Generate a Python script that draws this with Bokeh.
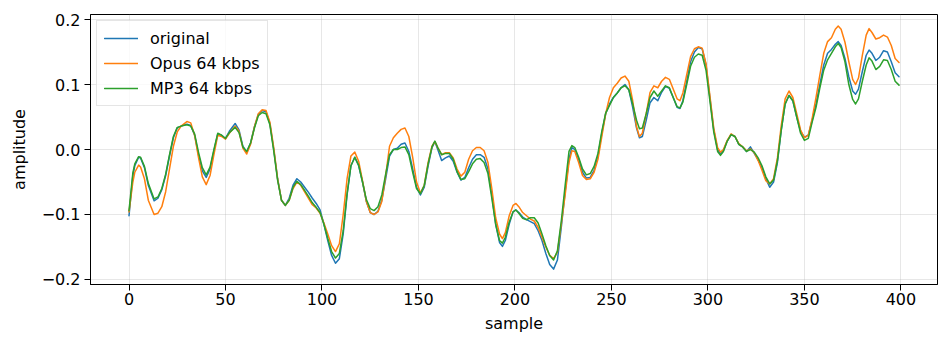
from bokeh.plotting import figure
from bokeh.models import ColumnDataSource, FixedTicker, CustomJSTickFormatter, Range1d, Legend, LegendItem
from bokeh.embed import file_html
from bokeh.resources import INLINE

sample = [0, 2, 3, 5, 6, 8, 10, 13, 15, 17,
          19, 21, 23, 25, 27, 30, 32, 34, 36, 38,
          40, 42, 44, 46, 48, 50, 52, 55, 57, 59,
          61, 63, 65, 67, 69, 71, 73, 75, 77, 79,
          81, 83, 85, 87, 89, 91, 93, 95, 97, 99,
          101, 103, 105, 107, 109, 111, 113, 115, 117, 119,
          121, 123, 125, 127, 129, 131, 133, 135, 137, 139,
          141, 143, 145, 147, 149, 151, 153, 155, 157, 158.5,
          160, 162, 164, 166, 168, 170, 172, 174, 176, 178,
          180, 182, 184, 186, 188, 190, 192, 193.5, 195, 197,
          199, 200.5, 202, 204, 206, 208, 210, 212, 214, 216,
          218, 220, 222, 224, 226, 228, 229.5, 231, 233, 235,
          237, 239, 241, 243, 245, 247, 249, 251, 253, 255,
          257, 259, 261, 263, 264.5, 266, 268, 270, 272, 274,
          276, 278, 280, 282, 284, 285.5, 287, 289, 291, 293,
          295, 297, 299, 301, 303, 305, 306.5, 308, 310, 312,
          314, 316, 318, 320, 322, 324, 326, 328, 330, 332,
          334, 336, 338, 340, 342, 344, 346, 348, 350, 352,
          354, 356, 358, 360, 362, 364, 366, 367.5, 369, 371,
          373, 375, 376.5, 378, 380, 382, 383.5, 385, 387, 389,
          391, 393, 395, 397, 399]

original = [-0.102, -0.04, -0.025, -0.012, -0.013, -0.028, -0.055, -0.079, -0.075, -0.062,
            -0.04, -0.01, 0.018, 0.033, 0.036, 0.039, 0.037, 0.022, -0.008, -0.033,
            -0.043, -0.03, -0.002, 0.024, 0.022, 0.017, 0.028, 0.04, 0.03, 0.005,
            -0.004, 0.01, 0.035, 0.054, 0.06, 0.058, 0.04, 0.0, -0.045, -0.078,
            -0.086, -0.075, -0.055, -0.045, -0.05, -0.058, -0.066, -0.075, -0.083, -0.093,
            -0.115, -0.14, -0.163, -0.175, -0.168, -0.13, -0.07, -0.025, -0.012, -0.025,
            -0.05, -0.08, -0.097, -0.1, -0.095, -0.078, -0.045, -0.01, 0.0, 0.002,
            0.008, 0.01, -0.003, -0.03, -0.058, -0.07, -0.058, -0.025, 0.003, 0.012,
            0.0, -0.017, -0.013, -0.01, -0.018, -0.035, -0.047, -0.043, -0.028, -0.015,
            -0.008, -0.008, -0.012, -0.03, -0.07, -0.115, -0.143, -0.149, -0.14, -0.115,
            -0.096, -0.093, -0.097, -0.104, -0.108, -0.111, -0.114, -0.125, -0.14, -0.16,
            -0.177, -0.184, -0.17, -0.12, -0.065, -0.015, 0.003, 0.0, -0.015, -0.035,
            -0.044, -0.043, -0.032, -0.01, 0.025, 0.055, 0.07, 0.08, 0.087, 0.095,
            0.1, 0.092, 0.065, 0.033, 0.018, 0.02, 0.045, 0.072, 0.08, 0.075,
            0.088, 0.097, 0.094, 0.08, 0.065, 0.063, 0.075, 0.105, 0.135, 0.15,
            0.157, 0.155, 0.13, 0.08, 0.03, 0.0, -0.007, -0.002, 0.013, 0.023,
            0.02, 0.008, 0.004, -0.003, 0.004, -0.006, -0.016, -0.028, -0.045, -0.058,
            -0.05, -0.02, 0.03, 0.07, 0.083, 0.075, 0.05, 0.028, 0.019, 0.022,
            0.045, 0.07, 0.1, 0.13, 0.148, 0.154, 0.162, 0.166, 0.16, 0.14,
            0.112, 0.09, 0.085, 0.093, 0.12, 0.145, 0.153, 0.148, 0.137, 0.142,
            0.152, 0.15, 0.135, 0.118, 0.112]

opus = [-0.096, -0.05, -0.035, -0.024, -0.027, -0.045, -0.078, -0.1, -0.098, -0.088,
        -0.065, -0.03, 0.005, 0.027, 0.036, 0.043, 0.041, 0.022, -0.012, -0.042,
        -0.054, -0.04, -0.008, 0.022, 0.02, 0.016, 0.025, 0.036, 0.028, 0.002,
        -0.007, 0.008, 0.035, 0.055, 0.061, 0.06, 0.042, 0.003, -0.045, -0.078,
        -0.086, -0.078, -0.06, -0.05, -0.055, -0.065, -0.075, -0.085, -0.09, -0.098,
        -0.113, -0.13, -0.148, -0.157, -0.145, -0.1, -0.045, -0.01, -0.004, -0.018,
        -0.048, -0.08, -0.097, -0.1, -0.096, -0.08, -0.04, 0.005, 0.018, 0.025,
        0.031, 0.033, 0.02, -0.012, -0.05, -0.067, -0.055, -0.02, 0.005, 0.012,
        0.003, -0.008, -0.005, -0.005, -0.013, -0.03, -0.041, -0.035, -0.015, -0.002,
        0.003, 0.003, -0.002, -0.02, -0.06, -0.105, -0.13, -0.137, -0.128, -0.102,
        -0.086, -0.083, -0.088, -0.097, -0.102, -0.107, -0.11, -0.12, -0.135, -0.15,
        -0.163, -0.168, -0.158, -0.115, -0.07, -0.02, -0.002, -0.003, -0.02, -0.04,
        -0.046, -0.045, -0.035, -0.015, 0.02, 0.055, 0.08, 0.095, 0.102, 0.11,
        0.113, 0.105, 0.075, 0.035, 0.02, 0.025, 0.055, 0.088, 0.098, 0.095,
        0.105, 0.111, 0.108, 0.093, 0.078, 0.075, 0.087, 0.115, 0.143, 0.155,
        0.158, 0.156, 0.132, 0.083, 0.033, 0.003, -0.004, 0.0, 0.014, 0.024,
        0.02, 0.009, 0.004, -0.002, 0.001, -0.005, -0.017, -0.032, -0.048, -0.053,
        -0.045, -0.013, 0.037, 0.078, 0.09, 0.08, 0.055, 0.03, 0.018, 0.022,
        0.048, 0.08, 0.115, 0.148, 0.166, 0.172, 0.185, 0.19, 0.185, 0.165,
        0.135, 0.108, 0.1, 0.11, 0.145, 0.176, 0.186, 0.18, 0.17, 0.172,
        0.176, 0.173, 0.16, 0.14, 0.134]

mp3 = [-0.094, -0.036, -0.022, -0.011, -0.012, -0.026, -0.052, -0.076, -0.073, -0.06,
       -0.038, -0.008, 0.02, 0.034, 0.036, 0.038, 0.036, 0.024, -0.004, -0.028,
       -0.039, -0.027, 0.0, 0.025, 0.022, 0.017, 0.026, 0.034, 0.026, 0.004,
       -0.003, 0.01, 0.033, 0.052, 0.057, 0.055, 0.038, -0.002, -0.047, -0.078,
       -0.086, -0.078, -0.058, -0.049, -0.054, -0.063, -0.072, -0.082, -0.089, -0.097,
       -0.115, -0.137, -0.157, -0.167, -0.16, -0.125, -0.068, -0.025, -0.012, -0.024,
       -0.05, -0.077, -0.091, -0.094, -0.088, -0.07, -0.038, -0.008, 0.0, 0.0,
       0.003, 0.004, -0.008, -0.035, -0.06, -0.068, -0.055, -0.022, 0.004, 0.013,
       0.003, -0.008, -0.006, -0.006, -0.015, -0.034, -0.046, -0.045, -0.034, -0.022,
       -0.015, -0.014, -0.02, -0.037, -0.075, -0.115, -0.14, -0.144, -0.135, -0.112,
       -0.096, -0.093, -0.098, -0.106, -0.108, -0.105, -0.105, -0.113, -0.13, -0.148,
       -0.163, -0.17, -0.156, -0.11, -0.055, -0.003, 0.006, 0.003, -0.012, -0.03,
       -0.039, -0.037, -0.026, -0.006, 0.028, 0.056, 0.068, 0.08, 0.087, 0.095,
       0.098, 0.092, 0.07, 0.045, 0.032, 0.033, 0.055, 0.08, 0.09, 0.082,
       0.09, 0.098, 0.095, 0.08, 0.066, 0.064, 0.073, 0.1, 0.128, 0.142,
       0.147, 0.145, 0.122, 0.075, 0.027, -0.003, -0.009, -0.003, 0.013, 0.023,
       0.02, 0.008, 0.004, -0.003, 0.0, -0.004, -0.013, -0.025, -0.042, -0.053,
       -0.047, -0.017, 0.03, 0.07, 0.083, 0.075, 0.05, 0.025, 0.014, 0.017,
       0.042, 0.065, 0.095, 0.122, 0.138, 0.148, 0.158, 0.163, 0.157, 0.135,
       0.1, 0.077, 0.07, 0.078, 0.105, 0.13, 0.141, 0.136, 0.123, 0.128,
       0.138, 0.137, 0.123, 0.105, 0.099]

series_names = ["original", "Opus 64 kbps", "MP3 64 kbps"]
x_ticks = [0, 50, 100, 150, 200, 250, 300, 350, 400]
y_ticks = [-0.2, -0.1, 0.0, 0.1, 0.2]

colors = ["#1f77b4", "#ff7f0e", "#2ca02c"]
FONT = "DejaVu Sans"
FS = "16px"

p = figure(width=947, height=348, output_backend="svg", toolbar_location=None,
           x_range=Range1d(-19.95, 418.95), y_range=Range1d(-0.2077, 0.2077),
           min_border_left=90, min_border_right=10, min_border_top=14, min_border_bottom=64)

src = ColumnDataSource(dict(x=sample, a=original, b=opus, c=mp3))
renderers = []
for col, color in zip(["a", "b", "c"], colors):
    r = p.line("x", col, source=src, line_color=color, line_width=1.5,
               line_join="round", line_cap="round")
    renderers.append(r)

legend = Legend(items=[LegendItem(label=n, renderers=[r]) for n, r in zip(series_names, renderers)],
                location="top_left")
legend.label_text_font = FONT
legend.label_text_font_size = FS
legend.label_text_color = "black"
legend.glyph_width = 34
legend.glyph_height = 20
legend.label_height = 20
legend.label_standoff = 12
legend.spacing = 5
legend.padding = 7
legend.margin = 6
legend.border_line_color = "#cccccc"
legend.border_line_width = 1
legend.background_fill_alpha = 0.8
p.add_layout(legend)

p.xaxis.ticker = FixedTicker(ticks=x_ticks)
p.yaxis.ticker = FixedTicker(ticks=y_ticks)
p.yaxis.formatter = CustomJSTickFormatter(code="""
    const s = Math.abs(tick).toFixed(1);
    return (tick < -1e-9 ? "\u2212" : "") + s;
""")
p.xaxis.axis_label = "sample"
p.yaxis.axis_label = "amplitude"
for ax in (p.xaxis, p.yaxis):
    ax.axis_label_text_font = FONT
    ax.axis_label_text_font_size = FS
    ax.axis_label_text_font_style = "normal"
    ax.axis_label_text_color = "black"
    ax.major_label_text_font = FONT
    ax.major_label_text_font_size = FS
    ax.major_label_text_color = "black"
    ax.major_tick_out = 6
    ax.major_tick_in = 0
    ax.minor_tick_out = 0
    ax.minor_tick_in = 0
    ax.major_tick_line_color = "black"
    ax.axis_line_color = "black"
p.xaxis.major_label_standoff = 2
p.xaxis.axis_label_standoff = 6
p.yaxis.major_label_standoff = 4
p.yaxis.axis_label_standoff = 10

p.xgrid.ticker = FixedTicker(ticks=x_ticks)
p.ygrid.ticker = FixedTicker(ticks=y_ticks)
p.grid.grid_line_color = "#b0b0b0"
p.grid.grid_line_alpha = 0.3
p.grid.grid_line_width = 1
p.outline_line_color = "black"
p.outline_line_width = 1
p.outline_line_alpha = 1
p.background_fill_color = "white"
p.border_fill_color = "white"

open("out.html", "w").write(file_html(p, INLINE))
